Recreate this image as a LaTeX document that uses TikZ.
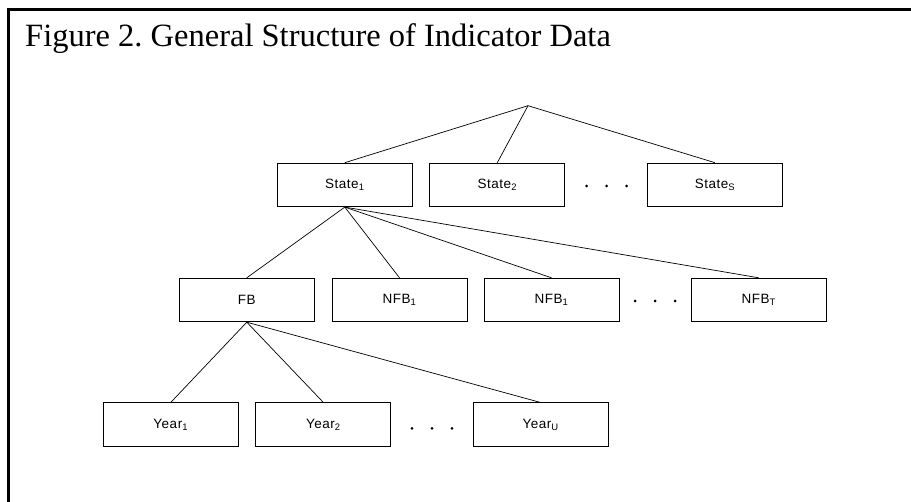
\documentclass[tikz,border=0pt]{standalone}
\usepackage{fontspec}
\setmainfont{Liberation Serif}
\newfontfamily\boxfont[LetterSpace=4]{Liberation Sans}
\frenchspacing
\begin{document}
\begin{tikzpicture}[x=1pt,y=-1pt,
  box/.style={draw, line width=0.9pt, minimum width=135pt, minimum height=43.5pt, inner sep=0pt,
    font=\boxfont\fontsize{13.5}{15}\selectfont},
  link/.style={line width=0.7pt},
  dotmark/.style={circle, fill, inner sep=0pt, minimum size=3pt},
  frameline/.style={line width=2.2pt}]
\useasboundingbox (0,0) rectangle (911,502);
% frame (only left and top edges visible)
\draw[frameline] (8.5,503) -- (8.5,9.5) -- (912,9.5);
% title
\node[anchor=base west, inner sep=0pt, font=\fontsize{32.5}{36}\selectfont] (title) at (25,46.7)
  {Figure 2. General Structure of Indicator Data};
% apex
\coordinate (apex) at (528,105.7);
% state row
\node[box] (s1) at (344.8,184.9) {State\textsubscript{1}};
\node[box] (s2) at (497.3,184.9) {State\textsubscript{2}};
\node[box] (ss) at (715,184.9) {State\textsubscript{S}};
\node[dotmark] (sd1) at (586.7,186) {};
\node[dotmark] (sd2) at (606.5,186) {};
\node[dotmark] (sd3) at (626.6,186) {};
% fb row
\node[box] (fb) at (246.8,300) {FB};
\node[box] (n1) at (399.5,300) {NFB\textsubscript{1}};
\node[box] (n2) at (551.5,300) {NFB\textsubscript{1}};
\node[box] (nt) at (758.7,300) {NFB\textsubscript{T}};
\node[dotmark] (nd1) at (635,301) {};
\node[dotmark] (nd2) at (655,301) {};
\node[dotmark] (nd3) at (675,301) {};
% year row
\node[box] (y1) at (170.7,424.7) {Year\textsubscript{1}};
\node[box] (y2) at (323.4,424.7) {Year\textsubscript{2}};
\node[box] (yu) at (540.7,424.7) {Year\textsubscript{U}};
\node[dotmark] (yd1) at (412,428.3) {};
\node[dotmark] (yd2) at (432,428.3) {};
\node[dotmark] (yd3) at (452,428.3) {};
% connectors
\draw[link] (apex) -- (s1.north);
\draw[link] (apex) -- (s2.north);
\draw[link] (apex) -- (ss.north);
\draw[link] (s1.south) -- (fb.north);
\draw[link] (s1.south) -- (n1.north);
\draw[link] (s1.south) -- (n2.north);
\draw[link] (s1.south) -- (nt.north);
\draw[link] (fb.south) -- (y1.north);
\draw[link] (fb.south) -- (y2.north);
\draw[link] (fb.south) -- (yu.north);
\end{tikzpicture}
\end{document}
